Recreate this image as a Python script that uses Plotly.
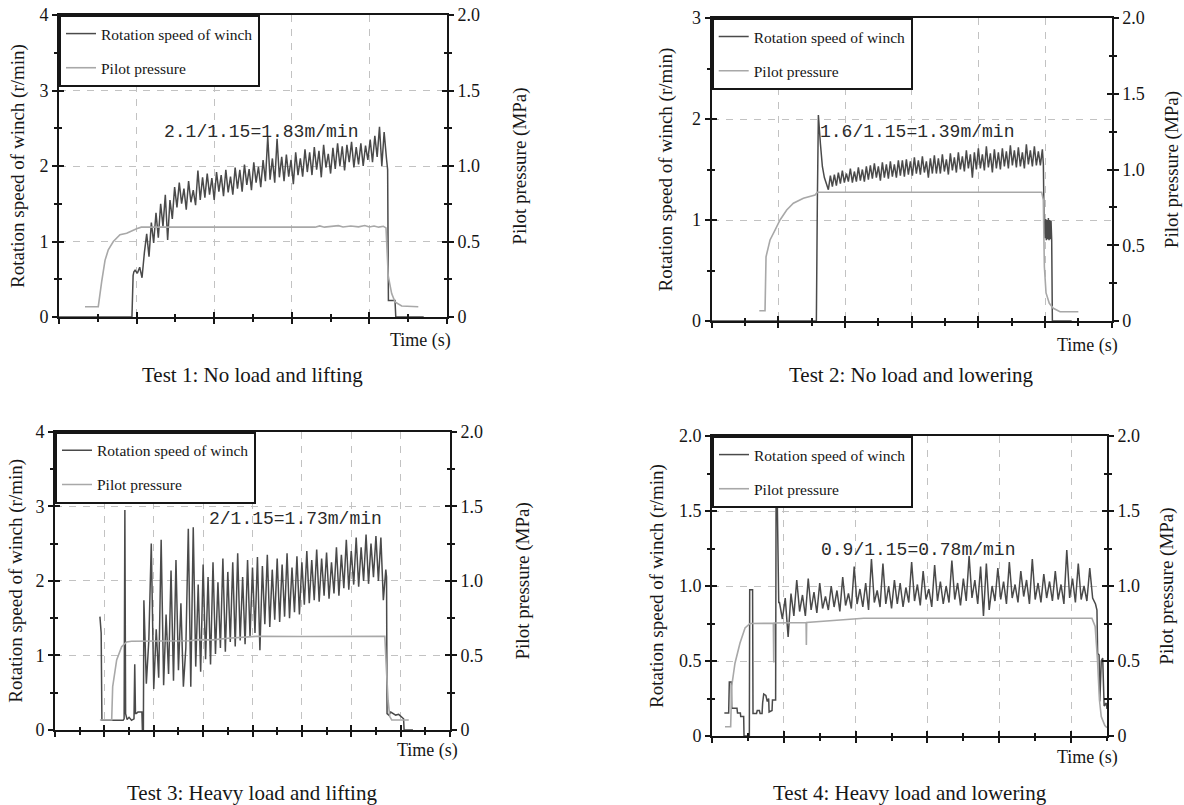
import plotly.graph_objects as go

# ---------------------------------------------------------------- data
# time axis: hundredths of one major x-tick interval (no labels on the original)
# rotation speed of winch in r/min (left axis), pilot pressure in MPa (right axis)

# ---- Test 1: No load and lifting
p1_speed_t = [0, 94, 95.5, 96.5,
              98, 101, 104, 107,
              110, 113, 116, 119, 122, 125, 128, 131, 134, 137, 140, 143, 146,
              149, 152, 155, 158, 161, 164, 167, 170, 173, 176, 179, 182,
              185, 188, 191, 194, 197, 200, 203, 206, 209, 212, 215, 218, 221, 224,
              227, 230, 233, 236, 239, 242, 245, 248, 251, 254, 257, 260, 263, 266,
              269, 272, 275, 278, 281, 284, 287, 290, 293, 296, 299, 302, 305, 308, 311,
              314, 317, 320, 323, 326, 329, 332, 335, 338, 341, 344, 347, 350, 353,
              356, 359, 362, 365, 368, 371, 374, 377, 380, 383, 386, 389, 392, 395,
              398, 401, 404, 407, 410, 413, 416, 419, 422,
              423.5, 424.5, 433, 434, 470]
p1_speed_v = [0, 0, 0.55, 0.60,
              0.62, 0.58, 0.66, 0.52,
              0.85, 1.10, 0.80, 1.25, 0.98, 1.38, 1.05, 1.50, 1.20, 1.62, 1.02, 1.55, 1.30,
              1.72, 1.45, 1.78, 1.50, 1.70, 1.42, 1.80, 1.52, 1.68, 1.48, 1.94, 1.55,
              1.85, 1.58, 1.90, 1.62, 1.84, 1.55, 1.92, 1.66, 1.88, 1.60, 1.95, 1.65, 1.86, 1.62,
              1.98, 1.70, 1.95, 1.66, 2.02, 1.75, 1.96, 1.68, 2.05, 1.78, 1.99, 1.72, 2.08, 1.80,
              2.39, 1.82, 2.10, 1.78, 2.36, 1.85, 2.12, 1.80, 2.15, 1.86, 2.08, 1.76, 2.18, 1.88, 2.10,
              1.86, 2.22, 1.92, 2.18, 1.88, 2.25, 1.95, 2.20, 1.85, 2.28, 1.98, 2.16, 1.90, 2.24,
              1.96, 2.30, 2.00, 2.26, 1.94, 2.28, 2.05, 2.32, 1.98, 2.25, 2.02, 2.30, 2.00, 2.27,
              2.08, 2.35, 2.05, 2.40, 2.12, 2.52, 2.00, 2.45, 2.10,
              1.95, 0.22, 0.22, 0, 0]
p1_pilot_t = [33.5, 50.6, 55, 59.3, 63.5, 70, 78.6, 87.2, 100, 106,
              330, 336, 342, 352, 360, 366, 376, 386, 394, 400, 406, 412, 418,
              421.4, 424.3, 428.7, 433, 441.6, 463]
p1_pilot_v = [0.068, 0.068, 0.235, 0.375, 0.445, 0.50, 0.545, 0.555, 0.585, 0.595,
              0.595, 0.603, 0.595, 0.599, 0.605, 0.596, 0.603, 0.597, 0.606, 0.596, 0.603, 0.595, 0.601,
              0.59, 0.27, 0.155, 0.10, 0.073, 0.068]

# ---- Test 2: No load and lowering
p2_speed_t = [0, 157, 158.5, 160, 163, 166, 169, 172,
              175, 178, 181, 184, 187, 190, 193, 196, 199, 202, 205, 208, 211, 214, 217, 220, 223, 226, 229, 232,
              235, 238, 241, 244, 247, 250, 253, 256, 259, 262, 265, 268, 271, 274, 277, 280, 283,
              286, 289, 292, 295, 298, 301, 304, 307, 310, 313, 316, 319, 322, 325, 328, 331, 334,
              337, 340, 343, 346, 349, 352, 355, 358, 361, 364, 367, 370, 373, 376, 379, 382, 385,
              388, 391, 394, 397, 400, 403, 406, 409, 412, 415, 418, 421, 424, 427, 430, 433,
              436, 439, 442, 445, 448, 451, 454, 457, 460, 463, 466, 469, 472, 475, 478, 481, 484, 487, 490, 493, 496,
              497.5, 498.5, 500, 501, 502, 503, 504, 505, 506, 507, 508, 509, 510, 511, 540]
p2_speed_v = [0, 0, 1.2, 2.04, 1.76, 1.53, 1.42, 1.35,
              1.30, 1.44, 1.33, 1.45, 1.34, 1.47, 1.36, 1.49, 1.37, 1.46, 1.38, 1.51, 1.37, 1.48, 1.38, 1.52, 1.39, 1.50, 1.38, 1.53,
              1.40, 1.54, 1.41, 1.56, 1.42, 1.53, 1.39, 1.57, 1.42, 1.55, 1.41, 1.58, 1.43, 1.55, 1.42, 1.59, 1.44,
              1.59, 1.43, 1.60, 1.45, 1.58, 1.44, 1.62, 1.46, 1.59, 1.45, 1.63, 1.47, 1.58, 1.42, 1.61, 1.46, 1.64,
              1.46, 1.61, 1.46, 1.65, 1.48, 1.60, 1.45, 1.66, 1.49, 1.62, 1.47, 1.67, 1.50, 1.63, 1.48, 1.69, 1.51,
              1.65, 1.42, 1.67, 1.50, 1.71, 1.51, 1.65, 1.49, 1.73, 1.52, 1.66, 1.47, 1.70, 1.51, 1.67, 1.50,
              1.71, 1.53, 1.68, 1.51, 1.74, 1.54, 1.69, 1.52, 1.72, 1.53, 1.67, 1.51, 1.75, 1.55, 1.69, 1.53, 1.73, 1.54, 1.68, 1.54, 1.70,
              1.55, 1.00, 0.82, 1.01, 0.80, 1.00, 0.81, 1.02, 0.80, 1.00, 0.81, 0.99, 0.80, 0, 0]
p2_pilot_t = [71.4, 80, 81.5, 87.5, 95, 102.5, 112.5, 122.5, 137.5, 155, 158.5,
              495, 497.4, 499, 501.5, 506.4, 512.4, 522.5, 550]
p2_pilot_v = [0.068, 0.068, 0.424, 0.535, 0.60, 0.667, 0.733, 0.777, 0.81, 0.832, 0.85,
              0.85, 0.80, 0.358, 0.185, 0.117, 0.084, 0.061, 0.061]

# ---- Test 3: Heavy load and lifting
p3_speed_t = [91, 92, 93.5, 95, 138, 140, 141.5, 143, 146, 150, 155, 160, 161.5, 163, 164.5, 168, 176, 177, 179,
              180, 185, 190, 195, 200, 205, 210, 215, 220, 225,
              230, 235, 240, 245, 250, 255, 260, 265, 270, 275,
              280, 285, 290, 295, 300, 305, 310, 315, 320, 325,
              330, 335, 340, 345, 350, 355, 360, 365, 370, 375,
              380, 385, 390, 395, 400, 405, 410, 415, 420, 425,
              430, 435, 440, 445, 450, 455, 460, 465, 470, 475,
              480, 485, 490, 495, 500, 505, 510, 515, 520, 525,
              530, 535, 540, 545, 550, 555, 560, 565, 570, 575,
              580, 585, 590, 595, 600, 605, 610, 615, 620, 625,
              630, 635, 640, 645, 650, 655, 660, 665, 670,
              671.5, 672.5, 676, 680, 684, 690, 696, 702, 706, 707, 725]
p3_speed_v = [1.52, 1.45, 1.30, 0.13, 0.13, 0.15, 2.95, 0.22, 0.14, 0.17, 0.13, 0.15, 0.88, 0.22, 0.22, 0.24, 0.24, 0, 0,
              1.74, 0.62, 1.20, 2.50, 0.55, 1.35, 0.70, 2.55, 0.60, 1.55,
              0.75, 2.14, 0.66, 2.28, 0.80, 1.70, 0.58, 1.10, 2.70, 0.58,
              2.72, 0.85, 1.95, 0.78, 2.22, 0.95, 2.05, 0.88, 2.25, 1.02,
              1.98, 1.10, 2.30, 1.05, 2.12, 1.18, 2.25, 1.12, 2.37, 1.20,
              2.05, 1.15, 2.28, 1.25, 2.18, 1.30, 2.32, 1.07, 2.20, 1.42,
              2.35, 1.38, 2.15, 1.48, 2.30, 1.45, 2.22, 1.52, 2.37, 1.50,
              2.18, 1.58, 2.33, 1.55, 2.25, 1.68, 2.40, 1.70, 2.28, 1.74,
              2.42, 1.72, 2.30, 1.80, 2.38, 1.76, 2.25, 1.83, 2.45, 1.80,
              2.35, 1.90, 2.55, 1.88, 2.40, 1.95, 2.58, 1.92, 2.45, 2.00,
              2.62, 1.96, 2.50, 2.05, 2.60, 2.00, 2.58, 1.74, 2.15,
              2.05, 0.22, 0.20, 0.24, 0.22, 0.20, 0.21, 0.18, 0.15, 0, 0]
p3_pilot_t = [91, 114.8, 116.8, 124.9, 135, 145, 155, 200, 273, 290, 320, 350, 380, 408, 500, 600, 668,
              671, 674.6, 678, 682, 716.5]
p3_pilot_v = [0.067, 0.067, 0.29, 0.47, 0.558, 0.59, 0.595, 0.597, 0.598, 0.606, 0.604, 0.615, 0.62, 0.628, 0.627, 0.628, 0.628,
              0.42, 0.2, 0.09, 0.067, 0.067]

# ---- Test 4: Heavy load and lowering
p4_speed_t = [17.2, 23.2, 24.1, 26.9, 27.5, 34.8, 35.5, 39.5, 40, 44.1, 44.6, 52, 52.5, 56.5, 57.1, 62,
              63, 66, 67, 69.7, 70.5, 72, 75, 77, 78.9, 79.5, 83.6, 84.2, 88.6, 89.2, 91, 92.9,
              94, 98, 102, 106, 110, 114, 118, 122, 126, 130, 134, 138, 142, 146, 150, 154, 158,
              162, 166, 170, 174, 178, 182, 186, 190, 194, 198, 202, 206, 210, 214, 218, 222, 226, 230, 234, 238, 242, 246, 250, 254,
              258, 262, 266, 270, 274, 278, 282, 286, 290, 294, 298, 302, 306, 310, 314, 318, 322, 326, 330, 334, 338, 342, 346,
              350, 354, 358, 362, 366, 370, 374, 378, 382, 386, 390, 394, 398, 402, 406, 410, 414, 418, 422, 426, 430, 434, 438,
              442, 446, 450, 454, 458, 462,
              466, 470, 474, 478, 482, 486, 490, 494, 498, 502, 506, 510, 514, 518, 522, 526, 530, 534,
              536, 537, 539, 540, 542, 544, 546, 549, 550]
p4_speed_v = [0.153, 0.153, 0.36, 0.36, 0.185, 0.185, 0.153, 0.153, 0.13, 0.13, 0, 0, 0.975, 0.975, 0.15, 0.15,
              0.17, 0.17, 0.15, 0.15, 0.22, 0.28, 0.27, 0.23, 0.25, 0.16, 0.17, 0.24, 0.24, 1.53, 1.53, 0.89,
              0.89, 0.78, 0.92, 0.66, 0.95, 0.80, 1.04, 0.83, 0.94, 0.80, 1.05, 0.84, 0.96, 0.82, 1.02, 0.85, 0.93,
              0.84, 1.00, 0.86, 0.97, 0.83, 1.06, 0.87, 0.95, 0.85, 1.13, 0.88, 0.98, 0.86, 1.02, 0.84, 1.18, 0.89, 0.97, 0.86, 1.15, 0.88, 1.00, 0.85, 1.04,
              0.88, 1.02, 0.86, 0.99, 0.89, 1.16, 0.90, 1.01, 0.87, 1.10, 0.91, 0.98, 0.86, 1.14, 0.90, 1.03, 0.88, 1.00, 0.89, 1.17, 0.91, 1.02, 0.87,
              1.05, 0.90, 1.20, 0.92, 1.04, 0.88, 1.13, 0.80, 1.15, 0.84, 1.00, 0.90, 1.12, 0.91, 1.03, 0.88, 1.16, 0.92, 1.01, 0.89, 1.10, 0.93, 1.04,
              0.88, 1.18, 0.91, 1.02, 0.89, 1.08,
              0.92, 1.03, 0.90, 1.10, 0.91, 1.01, 0.88, 1.24, 0.92, 1.05, 0.89, 1.15, 0.91, 1.00, 0.90, 1.12, 0.92, 0.88,
              0.84, 0.55, 0.54, 0.23, 0.50, 0.52, 0.20, 0.22, 0.18]
p4_pilot_t = [18.1, 26, 27.4, 32, 39, 46, 53, 85.4, 86, 86.6, 131, 131.4, 131.8, 211, 529,
              533.5, 536.7, 539.5, 542, 547, 550]
p4_pilot_v = [0.062, 0.062, 0.33, 0.485, 0.62, 0.72, 0.75, 0.751, 0.49, 0.753, 0.757, 0.607, 0.757, 0.785, 0.785,
              0.73, 0.51, 0.24, 0.13, 0.07, 0.055]

# ---- ticks / labels
x_ticks = {1: [0, 100, 200, 300, 400, 500], 2: [0, 100, 200, 300, 400, 500, 600],
           3: [0, 100, 200, 300, 400, 500, 600, 700, 800], 4: [0, 100, 200, 300, 400, 500]}
x_minor = {1: [50, 150, 250, 350, 450], 2: [50, 150, 250, 350, 450, 550],
           3: [50, 150, 250, 350, 450, 550, 650, 750], 4: [50, 150, 250, 350, 450, 550]}
x_max = {1: 500, 2: 600, 3: 800, 4: 550}
left_ticks = {1: [0, 1, 2, 3, 4], 2: [0, 1, 2, 3], 3: [0, 1, 2, 3, 4], 4: [0, 0.5, 1.0, 1.5, 2.0]}
left_text = {1: ["0", "1", "2", "3", "4"], 2: ["0", "1", "2", "3"], 3: ["0", "1", "2", "3", "4"],
             4: ["0", "0.5", "1.0", "1.5", "2.0"]}
left_minor = {1: [0.5, 1.5, 2.5, 3.5], 2: [0.5, 1.5, 2.5], 3: [0.5, 1.5, 2.5, 3.5], 4: [0.25, 0.75, 1.25, 1.75]}
left_max = {1: 4, 2: 3, 3: 4, 4: 2}
right_ticks = [0, 0.5, 1.0, 1.5, 2.0]
right_text = ["0", "0.5", "1.0", "1.5", "2.0"]
right_minor = [0.25, 0.75, 1.25, 1.75]

notes = {1: "2.1/1.15=1.83m/min", 2: "1.6/1.15=1.39m/min", 3: "2/1.15=1.73m/min", 4: "0.9/1.15=0.78m/min"}
captions = {1: "Test 1: No load and lifting", 2: "Test 2: No load and lowering",
            3: "Test 3: Heavy load and lifting", 4: "Test 4: Heavy load and lowering"}
speed_name = "Rotation speed of winch"
pilot_name = "Pilot pressure"
left_title = "Rotation speed of winch (r/min)"
right_title = "Pilot pressure (MPa)"
x_title = "Time (s)"

series = {1: (p1_speed_t, p1_speed_v, p1_pilot_t, p1_pilot_v),
          2: (p2_speed_t, p2_speed_v, p2_pilot_t, p2_pilot_v),
          3: (p3_speed_t, p3_speed_v, p3_pilot_t, p3_pilot_v),
          4: (p4_speed_t, p4_speed_v, p4_pilot_t, p4_pilot_v)}
for k, (a, b, c, d) in series.items():
    assert len(a) == len(b), (k, "speed", len(a), len(b))
    assert len(c) == len(d), (k, "pilot", len(c), len(d))

# ---------------------------------------------------------------- layout / style
W, H = 1184, 805
SERIF = "Liberation Serif, Times New Roman, serif"
MONO = "Liberation Mono, DejaVu Sans Mono, monospace"
INK = "#161616"
SPEED_C = "#4a4a4a"
PILOT_C = "#a8a8a8"
GRID_C = "#c2c2c2"
GRID_DASH = "7px,7px"

# plot boxes in pixels: left, right, top, bottom
boxes = {1: (59, 447, 15, 317), 2: (711.7, 1111.7, 18, 321), 3: (55, 450, 431.7, 730), 4: (712, 1107, 436, 736)}
note_pos = {1: (162, 132), 2: (818, 132), 3: (207, 519), 4: (819, 550)}
cap_pos = {1: (252, 375), 2: (911, 375), 3: (252, 793), 4: (910, 793)}
time_pos = {1: (453, 340), 2: (1120, 345), 3: (460, 750), 4: (1120, 757)}
left_standoff = {1: 10, 2: 14, 3: 8, 4: 10}
right_standoff = {1: 34, 2: 21, 3: 34, 4: 21}


def axid(letter, n):
    return letter if n == 1 else f"{letter}{n}"


def axkey(letter, n):
    return f"{letter}axis" if n == 1 else f"{letter}axis{n}"


tick_common = dict(tickwidth=1.5, tickcolor=INK)
fig = go.Figure()
layout = dict(width=W, height=H, autosize=False, margin=dict(l=0, r=0, t=0, b=0, autoexpand=False),
              paper_bgcolor="white", plot_bgcolor="rgba(0,0,0,0)", font=dict(family=SERIF, color=INK),
              annotations=[], hovermode=False)

for n in range(1, 5):
    i = n - 1
    l, r, t, b = boxes[n]
    xm, yl, yr = axid("x", n), axid("y", 2 * i + 1), axid("y", 2 * i + 2)
    xo, ylo, yro = axid("x", n + 4), axid("y", 2 * i + 9), axid("y", 2 * i + 10)
    leg = "legend" if n == 1 else f"legend{n}"
    st, sv, pt, pv = series[n]

    fig.add_trace(go.Scatter(x=st, y=sv, xaxis=xm, yaxis=yl, mode="lines", name=speed_name,
                             line=dict(color=SPEED_C, width=1.5), legend=leg, legendgroup=f"s{n}"))
    fig.add_trace(go.Scatter(x=pt, y=pv, xaxis=xm, yaxis=yr, mode="lines", name=pilot_name,
                             line=dict(color=PILOT_C, width=1.6), legend=leg, legendgroup=f"p{n}"))
    # empty helper traces that carry the inward half of the crossing ticks
    fig.add_trace(go.Scatter(x=[], y=[], xaxis=xo, yaxis=ylo, showlegend=False))
    fig.add_trace(go.Scatter(x=[], y=[], xaxis=xo, yaxis=yro, showlegend=False))

    xr = [0, x_max[n]]
    layout[axkey("x", n)] = dict(
        domain=[l / W, r / W], anchor=yl, range=xr, tickmode="array", tickvals=x_ticks[n],
        showticklabels=False, ticks="outside", ticklen=5, **tick_common,
        showline=True, linewidth=2, linecolor=INK, mirror=True,
        showgrid=True, gridcolor=GRID_C, gridwidth=1, griddash=GRID_DASH, zeroline=False,
        minor=dict(tickvals=x_minor[n], ticks="outside", ticklen=3, showgrid=False, **tick_common),
        fixedrange=True)
    layout[axkey("x", n + 4)] = dict(
        overlaying=xm, anchor=yl, range=xr, tickmode="array", tickvals=x_ticks[n],
        showticklabels=False, ticks="inside", ticklen=5, **tick_common,
        showline=False, showgrid=False, zeroline=False,
        minor=dict(tickvals=x_minor[n], ticks="inside", ticklen=3, showgrid=False, **tick_common),
        fixedrange=True)

    yrange = [0, left_max[n]]
    layout[axkey("y", 2 * i + 1)] = dict(
        domain=[1 - b / H, 1 - t / H], anchor=xm, range=yrange, tickmode="array",
        tickvals=left_ticks[n], ticktext=left_text[n], tickfont=dict(family=SERIF, size=18, color=INK),
        ticks="outside", ticklen=5, **tick_common, showline=True, linewidth=2, linecolor=INK,
        showgrid=True, gridcolor=GRID_C, gridwidth=1, griddash=GRID_DASH, zeroline=False,
        minor=dict(tickvals=left_minor[n], ticks="outside", ticklen=3, showgrid=False, **tick_common),
        title=dict(text=left_title, font=dict(family=SERIF, size=19, color=INK), standoff=left_standoff[n]),
        fixedrange=True)
    layout[axkey("y", 2 * i + 2)] = dict(
        overlaying=yl, anchor=xm, side="right", range=[0, 2], tickmode="array",
        tickvals=right_ticks, ticktext=right_text, tickfont=dict(family=SERIF, size=18, color=INK),
        ticks="outside", ticklen=5, **tick_common, showline=True, linewidth=2, linecolor=INK,
        showgrid=False, zeroline=False,
        minor=dict(tickvals=right_minor, ticks="outside", ticklen=3, showgrid=False, **tick_common),
        title=dict(text=right_title, font=dict(family=SERIF, size=19, color=INK), standoff=right_standoff[n]),
        fixedrange=True)
    layout[axkey("y", 2 * i + 9)] = dict(
        overlaying=yl, anchor=xm, side="left", range=yrange, tickmode="array", tickvals=left_ticks[n],
        showticklabels=False, ticks="inside", ticklen=5, **tick_common, showline=False,
        showgrid=False, zeroline=False,
        minor=dict(tickvals=left_minor[n], ticks="inside", ticklen=3, showgrid=False, **tick_common),
        fixedrange=True)
    layout[axkey("y", 2 * i + 10)] = dict(
        overlaying=yl, anchor=xm, side="right", range=[0, 2], tickmode="array", tickvals=right_ticks,
        showticklabels=False, ticks="inside", ticklen=5, **tick_common, showline=False,
        showgrid=False, zeroline=False,
        minor=dict(tickvals=right_minor, ticks="inside", ticklen=3, showgrid=False, **tick_common),
        fixedrange=True)

    layout[leg] = dict(x=l / W, y=1 - t / H, xanchor="left", yanchor="top", bgcolor="white",
                       bordercolor=INK, borderwidth=2, font=dict(family=SERIF, size=15.5, color=INK),
                       itemwidth=30, tracegroupgap=11, traceorder="grouped")

    nx, ny = note_pos[n]
    layout["annotations"].append(dict(x=nx / W, y=1 - ny / H, xref="paper", yref="paper", text=notes[n],
                                      showarrow=False, xanchor="left", yanchor="middle",
                                      font=dict(family=MONO, size=18, color="#2a2a2a")))
    tx, ty = time_pos[n]
    layout["annotations"].append(dict(x=tx / W, y=1 - ty / H, xref="paper", yref="paper", text=x_title,
                                      showarrow=False, xanchor="right", yanchor="middle",
                                      font=dict(family=SERIF, size=18, color=INK)))
    cx, cy = cap_pos[n]
    layout["annotations"].append(dict(x=cx / W, y=1 - cy / H, xref="paper", yref="paper", text=captions[n],
                                      showarrow=False, xanchor="center", yanchor="middle",
                                      font=dict(family=SERIF, size=21, color=INK)))

fig.update_layout(**layout)
fig.write_html(
    "out.html",
    config={"displayModeBar": False, "responsive": False},
    post_script=("document.body.style.margin='0';document.body.style.padding='0';"
                 "document.documentElement.style.overflow='hidden';document.body.style.overflow='hidden';"
                 "var gd=document.getElementById('{plot_id}');gd.style.position='fixed';"
                 "gd.style.top='0px';gd.style.left='0px';"),
)
